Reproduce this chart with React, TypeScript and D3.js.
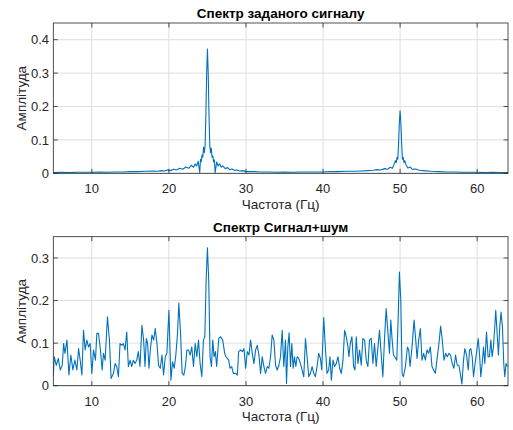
import React from "react";
import * as d3 from "d3";

// ---- Data ----
const xDomain = [5, 64];
const xTicks = [10, 20, 30, 40, 50, 60];

const cleanTitle = "Спектр заданого сигналу";
const noisyTitle = "Спектр Сигнал+шум";
const xLabel = "Частота (Гц)";
const yLabel = "Амплітуда";

const cleanYMax = 0.45;
const cleanYTicks = [0, 0.1, 0.2, 0.3, 0.4];
const noisyYMax = 0.35;
const noisyYTicks = [0, 0.1, 0.2, 0.3];

const cleanFreq = [
  5, 6, 7, 8, 9, 10, 11, 12, 13, 14,
  15, 16, 17, 18, 18.5, 19, 19.4, 19.8, 20.2, 20.6,
  21.0, 21.4, 21.8, 22.2, 22.6, 22.9, 23.2, 23.4, 23.6, 23.8,
  24.0, 24.1, 24.2, 24.3, 24.4, 24.5, 24.6, 24.7, 24.8, 24.9,
  25.0, 25.1, 25.2, 25.3, 25.4, 25.5, 25.6, 25.7, 25.8, 25.9,
  26.0, 26.2, 26.4, 26.6, 26.8, 27.0, 27.3, 27.6, 27.9, 28.2,
  28.5, 28.8, 29.2, 29.6, 30, 31, 32, 33, 34, 35,
  36, 37, 38, 39, 40, 41, 42, 43, 44, 45,
  45.8, 46.5, 47.0, 47.5, 48.0, 48.4, 48.7, 49.0, 49.2, 49.4,
  49.5, 49.6, 49.7, 49.8, 49.9, 50.0, 50.1, 50.2, 50.3, 50.4,
  50.5, 50.6, 50.8, 51.0, 51.3, 51.6, 52.0, 52.5, 53, 54,
  55, 56, 57, 58, 59, 60, 61, 62, 63, 64,
];
const cleanAmp = [
  0.002, 0.003, 0.002, 0.003, 0.003, 0.003, 0.004, 0.003, 0.004, 0.004,
  0.005, 0.005, 0.006, 0.007, 0.006, 0.008, 0.007, 0.010, 0.008, 0.012,
  0.010, 0.015, 0.012, 0.019, 0.015, 0.024, 0.018, 0.028, 0.022, 0.036,
  0.002, 0.042, 0.035, 0.055, 0.048, 0.078, 0.062, 0.085, 0.18, 0.30,
  0.372, 0.30, 0.18, 0.085, 0.062, 0.075, 0.048, 0.052, 0.034, 0.040,
  0.002, 0.034, 0.022, 0.028, 0.018, 0.022, 0.014, 0.017, 0.011, 0.013,
  0.009, 0.010, 0.007, 0.008, 0.005, 0.005, 0.004, 0.004, 0.003, 0.004,
  0.003, 0.004, 0.004, 0.004, 0.004, 0.005, 0.005, 0.006, 0.006, 0.007,
  0.008, 0.009, 0.011, 0.010, 0.014, 0.012, 0.018, 0.015, 0.026, 0.038,
  0.032, 0.048, 0.042, 0.09, 0.15, 0.187, 0.15, 0.09, 0.042, 0.048,
  0.032, 0.038, 0.024, 0.016, 0.019, 0.012, 0.013, 0.009, 0.008, 0.006,
  0.005, 0.004, 0.004, 0.003, 0.003, 0.003, 0.002, 0.003, 0.002, 0.002,
];

const noisyFreq = [
  5.00, 5.13, 5.39, 5.65, 5.90, 6.16, 6.34, 6.51, 6.77, 7.03,
  7.28, 7.54, 7.80, 8.06, 8.28, 8.49, 8.71, 8.92, 9.14, 9.35,
  9.57, 9.78, 10.00, 10.22, 10.47, 10.65, 10.86, 11.08, 11.34, 11.51,
  11.72, 12.03, 12.28, 12.50, 12.80, 13.02, 13.23, 13.45, 13.66, 13.88,
  14.10, 14.31, 14.53, 14.74, 14.96, 15.17, 15.39, 15.60, 15.82, 16.03,
  16.25, 16.50, 16.72, 16.90, 17.07, 17.24, 17.41, 17.59, 17.80, 18.02,
  18.23, 18.45, 18.66, 18.88, 19.10, 19.31, 19.53, 19.74, 20.00, 20.26,
  20.47, 20.69, 20.90, 21.12, 21.29, 21.51, 21.72, 21.94, 22.16, 22.33,
  22.54, 22.76, 22.97, 23.19, 23.41, 23.62, 23.84, 24.05, 24.27, 24.48,
  24.66, 24.83, 25.00, 25.17, 25.34, 25.52, 25.69, 25.86, 26.03, 26.20,
  26.47, 26.72, 26.98, 27.24, 27.41, 27.59, 27.76, 27.93, 28.15, 28.36,
  28.66, 28.88, 29.05, 29.31, 29.53, 29.74, 29.96, 30.17, 30.39, 30.60,
  30.82, 31.03, 31.25, 31.47, 31.68, 31.90, 32.11, 32.33, 32.54, 32.76,
  32.97, 33.19, 33.40, 33.62, 33.84, 34.05, 34.27, 34.48, 34.70, 34.91,
  35.13, 35.26, 35.43, 35.60, 35.78, 35.95, 36.12, 36.29, 36.47, 36.64,
  36.85, 37.07, 37.28, 37.50, 37.72, 37.93, 38.15, 38.36, 38.58, 38.79,
  39.01, 39.22, 39.44, 39.66, 39.83, 40.09, 40.30, 40.52, 40.73, 40.90,
  41.08, 41.29, 41.51, 41.72, 41.94, 42.16, 42.37, 42.59, 42.80, 43.02,
  43.23, 43.36, 43.53, 43.75, 43.97, 44.14, 44.31, 44.53, 44.74, 44.96,
  45.17, 45.39, 45.60, 45.82, 46.03, 46.25, 46.47, 46.68, 46.90, 47.11,
  47.33, 47.54, 47.76, 47.97, 48.19, 48.40, 48.62, 48.79, 48.97, 49.14,
  49.31, 49.57, 49.74, 49.91, 50.09, 50.26, 50.43, 50.69, 50.95, 51.12,
  51.29, 51.55, 51.81, 52.03, 52.20, 52.41, 52.63, 52.84, 53.06, 53.28,
  53.49, 53.71, 53.92, 54.14, 54.35, 54.57, 54.78, 55.04, 55.26, 55.47,
  55.69, 55.91, 56.12, 56.34, 56.55, 56.77, 56.98, 57.20, 57.41, 57.63,
  57.84, 58.02, 58.23, 58.40, 58.62, 58.84, 59.01, 59.18, 59.35, 59.53,
  59.70, 59.91, 60.13, 60.30, 60.47, 60.65, 60.82, 60.99, 61.21, 61.42,
  61.59, 61.77, 61.94, 62.11, 62.28, 62.41, 62.59, 62.76, 62.93, 63.10,
  63.28, 63.45, 63.58, 63.75, 63.92,
];
const noisyAmp = [
  0.023, 0.068, 0.048, 0.064, 0.037, 0.048, 0.099, 0.076, 0.107, 0.025,
  0.072, 0.037, 0.060, 0.037, 0.087, 0.060, 0.025, 0.130, 0.084, 0.107,
  0.091, 0.099, 0.029, 0.084, 0.060, 0.123, 0.123, 0.091, 0.037, 0.076,
  0.060, 0.162, 0.107, 0.017, 0.029, 0.052, 0.045, 0.021, 0.099, 0.095,
  0.099, 0.084, 0.126, 0.045, 0.060, 0.045, 0.060, 0.052, 0.060, 0.080,
  0.045, 0.142, 0.107, 0.045, 0.111, 0.099, 0.041, 0.084, 0.119, 0.107,
  0.134, 0.099, 0.048, 0.041, 0.072, 0.025, 0.068, 0.076, 0.177, 0.013,
  0.056, 0.041, 0.072, 0.123, 0.194, 0.123, 0.029, 0.025, 0.048, 0.084,
  0.084, 0.072, 0.091, 0.045, 0.099, 0.068, 0.107, 0.052, 0.021, 0.107,
  0.115, 0.247, 0.324, 0.247, 0.068, 0.045, 0.107, 0.068, 0.080, 0.045,
  0.111, 0.115, 0.107, 0.076, 0.068, 0.064, 0.060, 0.041, 0.045, 0.029,
  0.029, 0.025, 0.080, 0.084, 0.080, 0.087, 0.041, 0.080, 0.072, 0.107,
  0.076, 0.052, 0.084, 0.095, 0.072, 0.029, 0.068, 0.045, 0.029, 0.045,
  0.041, 0.068, 0.119, 0.107, 0.048, 0.037, 0.048, 0.068, 0.130, 0.045,
  0.107, 0.005, 0.091, 0.124, 0.045, 0.099, 0.041, 0.068, 0.045, 0.068,
  0.064, 0.052, 0.037, 0.021, 0.111, 0.068, 0.021, 0.029, 0.045, 0.029,
  0.021, 0.045, 0.076, 0.064, 0.037, 0.160, 0.091, 0.029, 0.037, 0.068,
  0.013, 0.060, 0.045, 0.052, 0.068, 0.041, 0.029, 0.060, 0.130, 0.115,
  0.091, 0.068, 0.099, 0.115, 0.045, 0.037, 0.115, 0.052, 0.084, 0.048,
  0.111, 0.107, 0.060, 0.045, 0.107, 0.111, 0.052, 0.099, 0.045, 0.087,
  0.130, 0.076, 0.021, 0.107, 0.181, 0.130, 0.076, 0.154, 0.107, 0.072,
  0.068, 0.060, 0.154, 0.267, 0.200, 0.029, 0.021, 0.045, 0.091, 0.084,
  0.045, 0.091, 0.154, 0.107, 0.064, 0.107, 0.134, 0.060, 0.076, 0.060,
  0.084, 0.076, 0.091, 0.045, 0.037, 0.029, 0.060, 0.099, 0.140, 0.107,
  0.060, 0.076, 0.068, 0.076, 0.072, 0.052, 0.041, 0.072, 0.048, 0.048,
  0.025, 0.004, 0.060, 0.087, 0.072, 0.037, 0.084, 0.087, 0.068, 0.021,
  0.048, 0.076, 0.111, 0.076, 0.021, 0.052, 0.091, 0.052, 0.126, 0.068,
  0.068, 0.107, 0.068, 0.091, 0.138, 0.177, 0.123, 0.072, 0.138, 0.173,
  0.138, 0.052, 0.021, 0.052, 0.045,
];

// ---- Layout / style ----
const W = 513;
const H = 430;
const LEFT = 53.3;
const RIGHT = 508;
const AXIS_COLOR = "#262626";
const GRID_COLOR = "#dfdfdf";
const LINE_COLOR = "#0072BD";
const FONT = "'Liberation Sans', Arial, Helvetica, sans-serif";
const TICK_LEN = 4.5;

type PanelProps = {
  id: string;
  top: number;
  bottom: number;
  freq: number[];
  amp: number[];
  yMax: number;
  yTicks: number[];
  title: string;
};

function Panel({ id, top, bottom, freq, amp, yMax, yTicks, title }: PanelProps) {
  const x = d3.scaleLinear().domain(xDomain).range([LEFT, RIGHT]);
  const y = d3.scaleLinear().domain([0, yMax]).range([bottom, top]);
  const n = Math.min(freq.length, amp.length);
  const pts: [number, number][] = d3.range(n).map((i) => [freq[i], amp[i]]);
  const path = d3
    .line<[number, number]>()
    .x((d) => x(d[0]))
    .y((d) => y(d[1]))(pts) as string;
  const fmt = (v: number) => (v === 0 ? "0" : String(v));
  const cx = (LEFT + RIGHT) / 2;
  const cy = (top + bottom) / 2;
  return (
    <g>
      <defs>
        <clipPath id={id}>
          <rect x={LEFT} y={top} width={RIGHT - LEFT} height={bottom - top} />
        </clipPath>
      </defs>
      <rect x={LEFT} y={top} width={RIGHT - LEFT} height={bottom - top} fill="#fff" />
      {xTicks.map((t) => (
        <line key={"gx" + t} x1={x(t)} x2={x(t)} y1={top} y2={bottom} stroke={GRID_COLOR} strokeWidth={1} />
      ))}
      {yTicks.map((t) => (
        <line key={"gy" + t} x1={LEFT} x2={RIGHT} y1={y(t)} y2={y(t)} stroke={GRID_COLOR} strokeWidth={1} />
      ))}
      <path d={path} fill="none" stroke={LINE_COLOR} strokeWidth={1.1} clipPath={`url(#${id})`} strokeLinejoin="round" />
      <rect x={LEFT} y={top} width={RIGHT - LEFT} height={bottom - top} fill="none" stroke={AXIS_COLOR} strokeWidth={0.8} />
      {xTicks.map((t) => (
        <g key={"tx" + t}>
          <line x1={x(t)} x2={x(t)} y1={bottom} y2={bottom - TICK_LEN} stroke={AXIS_COLOR} strokeWidth={0.8} />
          <line x1={x(t)} x2={x(t)} y1={top} y2={top + TICK_LEN} stroke={AXIS_COLOR} strokeWidth={0.8} />
          <text x={x(t)} y={bottom + 19.8} textAnchor="middle" fontSize={13} fill={AXIS_COLOR} fontFamily={FONT}>
            {fmt(t)}
          </text>
        </g>
      ))}
      {yTicks.map((t) => (
        <g key={"ty" + t}>
          <line x1={LEFT} x2={LEFT + TICK_LEN} y1={y(t)} y2={y(t)} stroke={AXIS_COLOR} strokeWidth={0.8} />
          <line x1={RIGHT} x2={RIGHT - TICK_LEN} y1={y(t)} y2={y(t)} stroke={AXIS_COLOR} strokeWidth={0.8} />
          <text x={LEFT - 4.2} y={y(t) + 4.6} textAnchor="end" fontSize={13} fill={AXIS_COLOR} fontFamily={FONT}>
            {fmt(t)}
          </text>
        </g>
      ))}
      <text x={cx} y={top - 5} textAnchor="middle" fontSize={13.5} fontWeight="bold" fill="#000" fontFamily={FONT}>
        {title}
      </text>
      <text x={cx} y={bottom + 35.5} textAnchor="middle" fontSize={13.5} fill={AXIS_COLOR} fontFamily={FONT}>
        {xLabel}
      </text>
      <text
        transform={`translate(${25.5},${cy}) rotate(-90)`}
        textAnchor="middle"
        fontSize={13.5}
        fill={AXIS_COLOR}
        fontFamily={FONT}
      >
        {yLabel}
      </text>
    </g>
  );
}

export default function App() {
  return (
    <svg width={W} height={H} style={{ position: "absolute", left: 0, top: 0, background: "#fff" }}>
      <rect x={0} y={0} width={W} height={H} fill="#fff" />
      <Panel id="clipA" top={23} bottom={173.3} freq={cleanFreq} amp={cleanAmp} yMax={cleanYMax} yTicks={cleanYTicks} title={cleanTitle} />
      <Panel id="clipB" top={236.7} bottom={385.7} freq={noisyFreq} amp={noisyAmp} yMax={noisyYMax} yTicks={noisyYTicks} title={noisyTitle} />
    </svg>
  );
}
